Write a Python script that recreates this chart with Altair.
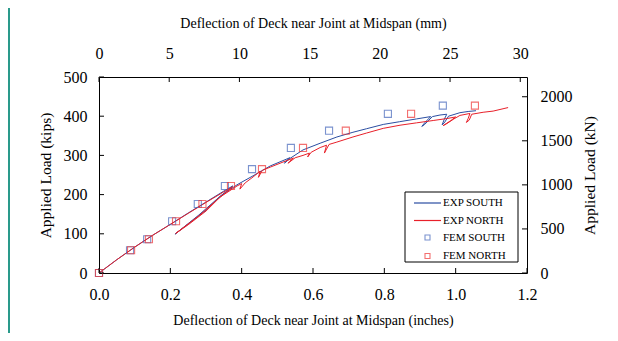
import altair as alt
import pandas as pd

# ---------------- data ----------------
exp_south_in = [0, 0.05, 0.10, 0.15, 0.20, 0.25, 0.30, 0.35, 0.375,
                0.33, 0.28, 0.213,
                0.25, 0.30, 0.34, 0.387, 0.432, 0.48, 0.527, 0.535,
                0.525, 0.52, 0.535,
                0.572, 0.62, 0.667, 0.712, 0.75, 0.797, 0.843, 0.89, 0.93,
                0.915, 0.905, 0.912, 0.925, 0.935,
                0.956, 0.975,
                0.968, 0.962, 0.968, 0.98,
                1.012, 1.035, 1.057]
exp_south_kips = [0, 34, 66, 96, 124, 153, 181, 209, 222,
                  188, 148, 99,
                  125, 160, 196, 225, 248, 273, 291, 294,
                  286, 280, 292,
                  314, 331, 347, 359, 368, 379, 386, 393, 399,
                  385, 374, 378, 390, 399,
                  403, 405,
                  392, 378, 383, 400,
                  409, 412, 414]

exp_north_in = [0, 0.05, 0.10, 0.15, 0.20, 0.25, 0.30, 0.35, 0.375,
                0.33, 0.28, 0.215,
                0.25, 0.30, 0.34, 0.387, 0.40, 0.395, 0.41, 0.432, 0.452, 0.447, 0.458,
                0.48, 0.527, 0.545,
                0.535, 0.53, 0.55,
                0.572, 0.59, 0.585, 0.595, 0.62, 0.638, 0.632, 0.645,
                0.667, 0.712, 0.75, 0.797, 0.844, 0.89, 0.937, 0.975, 1.0,
                0.985, 0.965, 0.975, 0.995,
                1.012, 1.04,
                1.035, 1.03, 1.038, 1.045,
                1.077, 1.105, 1.147]
exp_north_kips = [0, 34, 66, 96, 124, 152, 180, 207, 220,
                  186, 146, 101,
                  123, 158, 194, 222, 228, 214, 230, 245, 260, 244, 262,
                  270, 287, 293,
                  285, 280, 294,
                  300, 306, 296, 308, 320, 326, 306, 328,
                  334, 347, 357, 369, 377, 383, 389, 394, 398,
                  388, 376, 381, 393,
                  402, 407,
                  394, 384, 390, 405,
                  410, 413, 422]

fem_south_in = [0, 0.087, 0.135, 0.205, 0.277, 0.353, 0.429, 0.538, 0.645, 0.81, 0.964]
fem_south_kips = [0, 58, 86, 132, 176, 222, 265, 319, 363, 406, 427]
fem_north_in = [0, 0.09, 0.14, 0.216, 0.29, 0.37, 0.457, 0.572, 0.692, 0.875, 1.054]
fem_north_kips = [0, 58, 86, 132, 176, 222, 265, 319, 363, 406, 427]

x_ticks_in = [0, 0.2, 0.4, 0.6, 0.8, 1.0, 1.2]
y_ticks_kips = [0, 100, 200, 300, 400, 500]
x_ticks_mm = [0, 5, 10, 15, 20, 25, 30]
y_ticks_kn = [0, 500, 1000, 1500, 2000]
legend_labels = ["EXP SOUTH", "EXP NORTH", "FEM SOUTH", "FEM NORTH"]

# ---------------- styling ----------------
W, H = 428, 196
FONT = "Liberation Serif, Times New Roman, serif"
BLUE = "#2b4ea2"
RED = "#e8202a"
BLUE_M = "#4466bb"
RED_M = "#ee3333"
TEAL = "#2a9a8b"
LBL = 16      # tick label size
XT = 14       # horizontal titles
YT = 15.5     # vertical titles

xs = alt.Scale(domain=[0, 1.2], nice=False, zero=False)
ys = alt.Scale(domain=[0, 500], nice=False)
xa = alt.Axis(title="Deflection of Deck near Joint at Midspan (inches)", values=x_ticks_in,
              format=".1f", ticks=False, tickSize=0, labelPadding=13, titlePadding=11,
              titleFontSize=XT, labelFlush=False, domain=False, grid=False)
ya = alt.Axis(title="Applied Load (kips)", values=y_ticks_kips, ticks=False, tickSize=0,
              labelPadding=12, titlePadding=10, titleFontSize=YT,
              labelFlush=False, domain=False, grid=False)

lines_df = pd.concat([
    pd.DataFrame({"x": exp_south_in, "y": exp_south_kips, "s": "EXP SOUTH",
                  "o": range(len(exp_south_in))}),
    pd.DataFrame({"x": exp_north_in, "y": exp_north_kips, "s": "EXP NORTH",
                  "o": range(len(exp_north_in))}),
])
pts_df = pd.concat([
    pd.DataFrame({"x": fem_south_in, "y": fem_south_kips, "s": "FEM SOUTH"}),
    pd.DataFrame({"x": fem_north_in, "y": fem_north_kips, "s": "FEM NORTH"}),
])

lines = alt.Chart(lines_df).mark_line(strokeWidth=1.0).encode(
    x=alt.X("x:Q", scale=xs, axis=xa),
    y=alt.Y("y:Q", scale=ys, axis=ya),
    color=alt.Color("s:N", scale=alt.Scale(domain=["EXP SOUTH", "EXP NORTH"], range=[BLUE, RED]), legend=None),
    detail="s:N",
    order="o:Q",
)

points = alt.Chart(pts_df).mark_point(shape="square", filled=False, size=50, strokeWidth=1.1).encode(
    x=alt.X("x:Q", scale=xs, axis=xa),
    y=alt.Y("y:Q", scale=ys, axis=ya),
    stroke=alt.Stroke("s:N", scale=alt.Scale(domain=["FEM SOUTH", "FEM NORTH"], range=[BLUE_M, RED_M]), legend=None),
)

bticks = alt.Chart(pd.DataFrame({"x": x_ticks_in})).mark_rule(color="black").encode(
    x=alt.X("x:Q", scale=xs, axis=xa), y=alt.value(H), y2=alt.value(H - 5))
lticks = alt.Chart(pd.DataFrame({"y": y_ticks_kips})).mark_rule(color="black").encode(
    y=alt.Y("y:Q", scale=ys, axis=ya), x=alt.value(0), x2=alt.value(5))

# legend (manual)
one = pd.DataFrame({"a": [0]})
LX0, LX1, LY0, LY1 = 306, 419, 115, 185
rows_y = [126, 143.5, 160.5, 179]
leg_box = alt.Chart(one).mark_rect(fill="white", stroke="black", strokeWidth=1).encode(
    x=alt.value(LX0), x2=alt.value(LX1), y=alt.value(LY0), y2=alt.value(LY1))
leg_layers = [leg_box]
for i, (lab, col) in enumerate(zip(legend_labels, [BLUE, RED, BLUE_M, RED_M])):
    if i < 2:
        leg_layers.append(alt.Chart(one).mark_rule(color=col, strokeWidth=1.2).encode(
            x=alt.value(315), x2=alt.value(342), y=alt.value(rows_y[i])))
    else:
        leg_layers.append(alt.Chart(one).mark_point(shape="square", filled=False, size=25,
                                                    color=col, strokeWidth=1.1).encode(
            x=alt.value(328.5), y=alt.value(rows_y[i])))
    leg_layers.append(alt.Chart(one).mark_text(align="left", baseline="middle", font=FONT,
                                               fontSize=11, color="black").encode(
        x=alt.value(344), y=alt.value(rows_y[i]), text=alt.value(lab)))

teal = alt.Chart(one).mark_rule(color=TEAL, strokeWidth=2).encode(
    x=alt.value(-90), y=alt.value(-70), y2=alt.value(H + 62))

inner = alt.layer(lines, points, bticks, lticks, *leg_layers, teal)

top = alt.Chart(pd.DataFrame({"mm": x_ticks_mm})).mark_rule(color="black").encode(
    x=alt.X("mm:Q", scale=alt.Scale(domain=[0, 30.48], nice=False, zero=False),
            axis=alt.Axis(orient="top", title="Deflection of Deck near Joint at Midspan (mm)",
                          values=x_ticks_mm, ticks=False, tickSize=0, labelPadding=16,
                          titlePadding=15, titleFontSize=XT,
                          labelFlush=False, domain=False, grid=False)),
    y=alt.value(0), y2=alt.value(5))

right = alt.Chart(pd.DataFrame({"kN": y_ticks_kn})).mark_rule(color="black").encode(
    y=alt.Y("kN:Q", scale=alt.Scale(domain=[0, 500 * 4.44822], nice=False),
            axis=alt.Axis(orient="right", title="Applied Load (kN)", values=y_ticks_kn,
                          format="d", ticks=False, tickSize=0, labelPadding=13, titlePadding=10,
                          titleAngle=270, titleBaseline="top", titleFontSize=YT,
                          labelFlush=False, domain=False, grid=False)),
    x=alt.value(W), x2=alt.value(W - 5))

chart = alt.layer(inner, top, right).resolve_scale(
    x="independent", y="independent"
).properties(
    width=W, height=H, autosize="none",
    padding={"left": 91, "top": 69, "right": 83, "bottom": 60},
    background="white",
).configure_axis(
    labelFont=FONT, titleFont=FONT, labelFontSize=LBL,
    labelColor="black", titleColor="black", titleFontWeight="normal",
).configure_view(stroke="black", strokeWidth=1)

chart.save("out.html", embed_options={"renderer": "svg", "actions": False})
